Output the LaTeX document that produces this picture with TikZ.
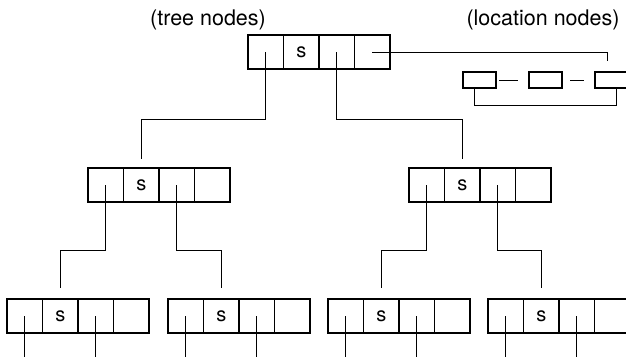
\documentclass[tikz,border=0pt]{standalone}
\usepackage{fontspec}
\setmainfont{TeX Gyre Heros}
\usetikzlibrary{positioning}

\tikzset{
  cell/.style={draw, line width=1.3pt, minimum width=35.5pt, minimum height=34pt,
    inner sep=0pt, outer sep=0pt, anchor=north west, font=\fontsize{20}{20}\selectfont},
  locbox/.style={draw, line width=1.6pt, minimum width=33pt, minimum height=16pt,
    inner sep=0pt, outer sep=0pt, anchor=north west},
  link/.style={line width=0.8pt},
  label/.style={font=\fontsize{21.5}{21.5}\selectfont},
}

\begin{document}
\begin{tikzpicture}[x=1pt, y=-1pt]
  \clip (0,0) rectangle (626,356);
  \useasboundingbox (0,0) rectangle (626,356);

  % Headings
  \node[label] (treelabel) at (208,20) {(tree nodes)};
  \node[label] (loclabel) at (543,20) {(location nodes)};

  % Tree nodes, four cells each
  \foreach \rec/\x/\y in {root/248/35, l/88/168, r/409/168,
                          ll/7/299, lr/168/299, rl/328/299, rr/488/299} {
    \node[cell] (\rec-1) at (\x,\y) {};
    \node[cell, right=0pt of \rec-1] (\rec-2) {s};
    \node[cell, right=0pt of \rec-2] (\rec-3) {};
    \node[cell, right=0pt of \rec-3] (\rec-4) {};
  }

  % Location nodes
  \node[locbox] (loc1) at (463,72) {};
  \node[locbox, right=33pt of loc1] (loc2) {};
  \node[locbox, right=33pt of loc2] (loc3) {};

  % Tree edges
  \draw[link] (root-1.center) -- ++(0,67) -| ([yshift=9pt]l-2.north);
  \draw[link] (root-3.center) -- ++(0,67) -| ([yshift=9pt]r-2.north);
  \foreach \up/\dl/\dr in {l/ll/lr, r/rl/rr} {
    \draw[link] (\up-1.center) -- ++(0,65) -| ([yshift=11pt]\dl-2.north);
    \draw[link] (\up-3.center) -- ++(0,65) -| ([yshift=11pt]\dr-2.north);
  }
  \foreach \rec in {ll, lr, rl, rr} {
    \draw[link] (\rec-1.center) -- ++(0,45);
    \draw[link] (\rec-3.center) -- ++(0,45);
  }

  % Location edges
  \draw[link] (root-4.center) -| ([xshift=-4pt,yshift=11pt]loc3.north);
  \draw[link] ([xshift=3pt]loc1.east) -- ([xshift=-11pt]loc2.west);
  \draw[link] ([xshift=8pt]loc2.east) -- ([xshift=-11pt]loc3.west);
  \draw[link] ([xshift=-5pt]loc1.south) -- ++(0,17) -| ([xshift=5pt]loc3.south);
\end{tikzpicture}
\end{document}
